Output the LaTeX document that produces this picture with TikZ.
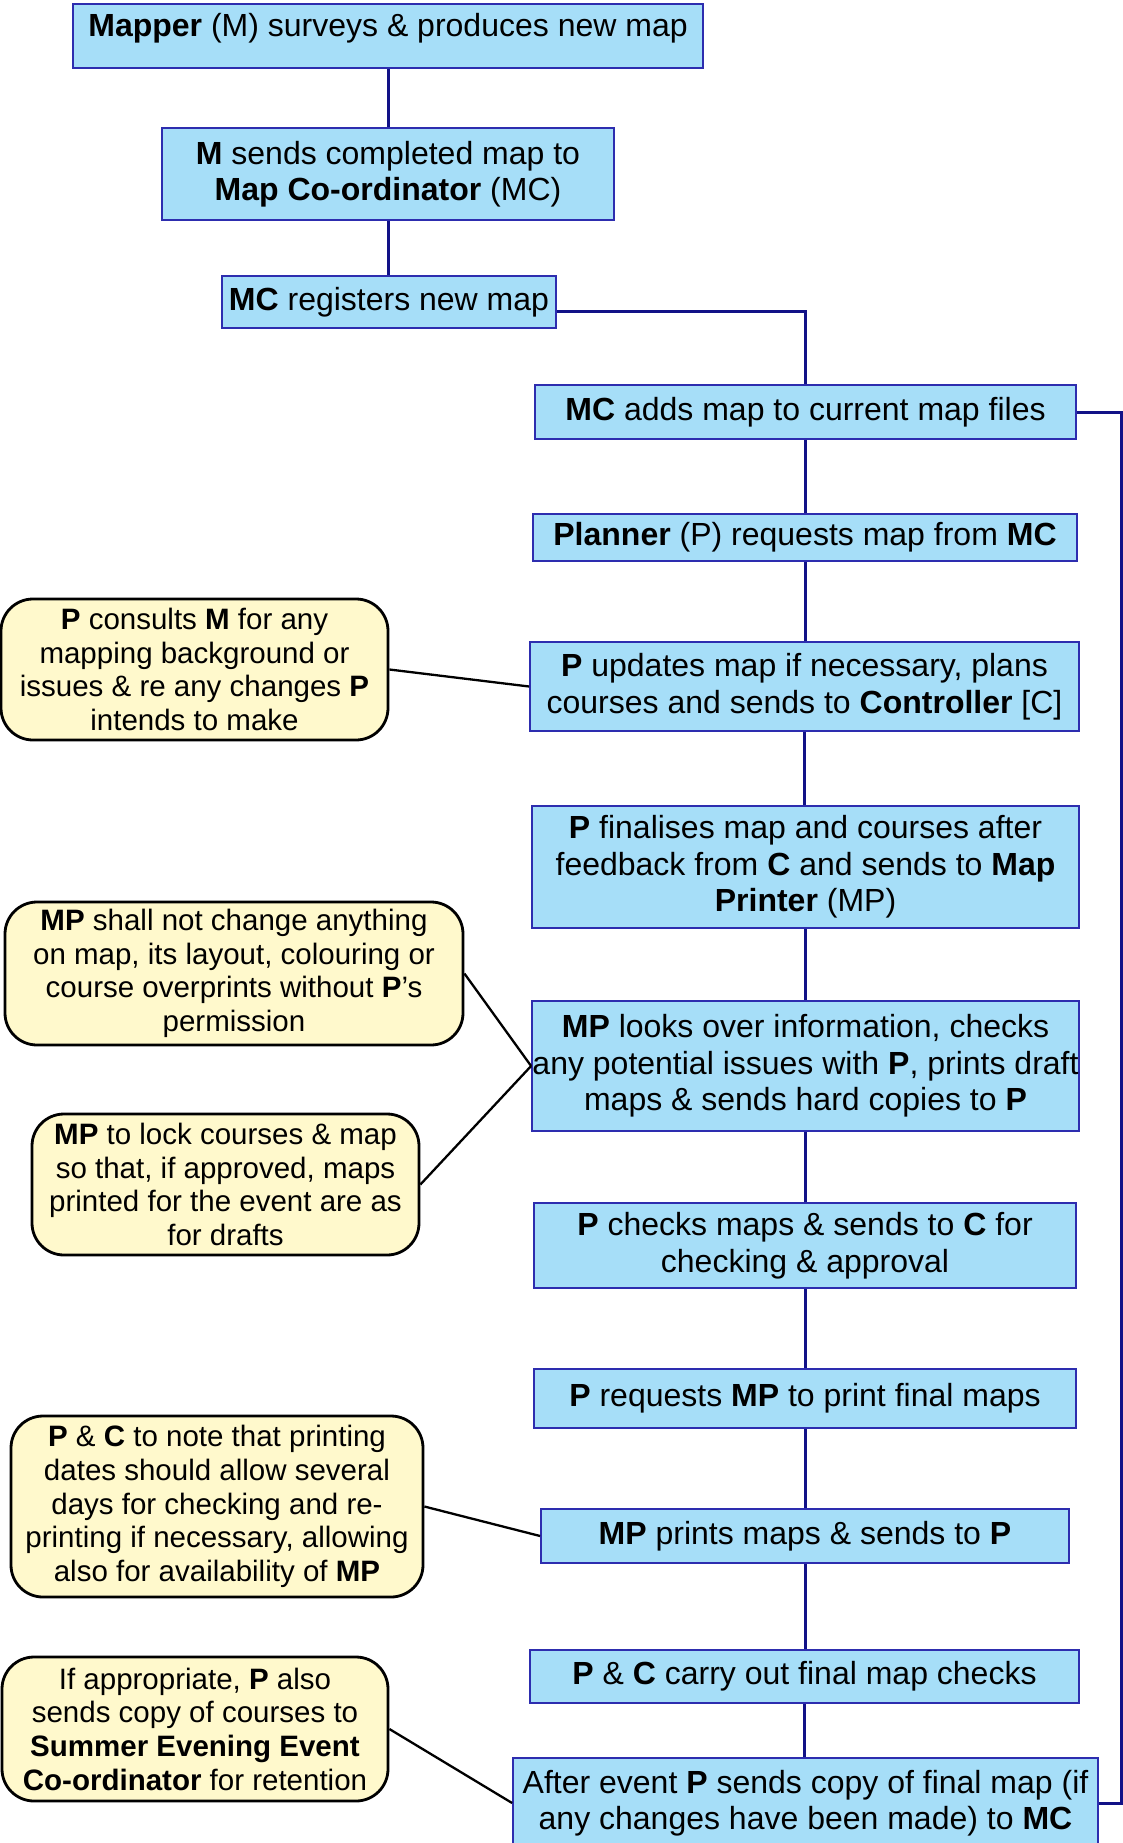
\documentclass[tikz,border=0pt]{standalone}
\usepackage{fontspec}
\setmainfont{Liberation Sans}
\usepackage{tikz}
\definecolor{boxblue}{RGB}{166,222,248}
\definecolor{boxline}{RGB}{45,45,175}
\definecolor{linknavy}{RGB}{18,18,135}
\definecolor{noteyellow}{RGB}{255,249,204}

\begin{document}
\begin{tikzpicture}[x=1pt,y=-1pt]
\tikzstyle{every node}=[font=\fontsize{32}{36.5}\selectfont]
\tikzstyle{stage}=[draw=boxline,line width=1.8pt,fill=boxblue,align=center,inner sep=0pt]
\tikzstyle{note}=[draw=black,line width=2.8pt,fill=noteyellow,rounded corners=32pt,align=center,inner sep=0pt,font=\fontsize{29.5}{33.7}\selectfont]
\tikzstyle{link}=[draw=linknavy,line width=3pt]
\tikzstyle{tie}=[draw=black,line width=2.3pt]
\useasboundingbox (0,0) rectangle (1123,1843);
\clip (0,0) rectangle (1123,1843);

%main boxes
\node[stage,minimum width=630pt,text height=24pt,text depth=22pt,inner ysep=9pt] (mapper) at (388,36) {\textbf{Mapper} (M) surveys \& produces new map};
\node[stage,minimum width=452pt,minimum height=92pt] (msend) at (388,174) {\textbf{M} sends completed map to\\\textbf{Map Co-ordinator} (MC)};
\node[stage,minimum width=334pt,minimum height=52pt] (mcreg) at (389,302) {\textbf{MC} registers new map};
\node[stage,minimum width=541pt,minimum height=54pt] (mcadd) at (805.5,412) {\textbf{MC} adds map to current map files};
\node[stage,minimum width=544pt,minimum height=47pt] (planner) at (805,537.5) {\textbf{Planner} (P) requests map from \textbf{MC}};
\node[stage,minimum width=549pt,minimum height=89pt] (pupdate) at (804.5,686.5) {\textbf{P} updates map if necessary, plans\\courses and sends to \textbf{Controller} [C]};
\node[stage,minimum width=547pt,minimum height=122pt] (pfinal) at (805.5,867) {\textbf{P} finalises map and courses after\\feedback from \textbf{C} and sends to \textbf{Map}\\\textbf{Printer} (MP)};
\node[stage,minimum width=547pt,minimum height=130pt] (mplook) at (805.5,1066) {\textbf{MP} looks over information, checks\\any potential issues with \textbf{P}, prints draft\\maps \& sends hard copies to \textbf{P}};
\node[stage,minimum width=542pt,minimum height=85pt] (pcheck) at (805,1245.5) {\textbf{P} checks maps \& sends to \textbf{C} for\\checking \& approval};
\node[stage,minimum width=542pt,minimum height=59pt] (preq) at (805,1398.5) {\textbf{P} requests \textbf{MP} to print final maps};
\node[stage,minimum width=528pt,minimum height=54pt] (mpprint) at (805,1536) {\textbf{MP} prints maps \& sends to \textbf{P}};
\node[stage,minimum width=549pt,minimum height=53pt] (pccheck) at (804.5,1676.5) {\textbf{P} \& \textbf{C} carry out final map checks};
\node[stage,minimum width=585pt,minimum height=90pt] (after) at (805.5,1803) {After event \textbf{P} sends copy of final map (if\\any changes have been made) to \textbf{MC}};

%side notes
\node[note,minimum width=387pt,minimum height=141pt] (pconsult) at (194.5,669.5) {\textbf{P} consults \textbf{M} for any\\mapping background or\\issues \& re any changes \textbf{P}\\intends to make};
\node[note,minimum width=458pt,minimum height=143pt] (mpnochange) at (234,973.5) {\textbf{MP} shall not change anything\\on map, its layout, colouring or\\course overprints without \textbf{P}’s\\permission};
\node[note,minimum width=387pt,minimum height=141pt] (mplock) at (225.5,1184.5) {\textbf{MP} to lock courses \& map\\so that, if approved, maps\\printed for the event are as\\for drafts};
\node[note,minimum width=412pt,minimum height=181pt] (pcnote) at (217,1506.5) {\textbf{P} \& \textbf{C} to note that printing\\dates should allow several\\days for checking and re-\\printing if necessary, allowing\\also for availability of \textbf{MP}};
\node[note,minimum width=386pt,minimum height=144pt] (sendcopy) at (195,1729) {If appropriate, \textbf{P} also\\sends copy of courses to\\\textbf{Summer Evening Event}\\\textbf{Co-ordinator} for retention};

%flow lines
\draw[link] (mapper.south) -- (mapper.south |- msend.north);
\draw[link] (msend.south) -- (msend.south |- mcreg.north);
\draw[link] ([yshift=-10pt]mcreg.east) -| (mcadd.north);
\foreach \a/\b in {mcadd/planner,planner/pupdate,pupdate/pfinal,pfinal/mplook,mplook/pcheck,pcheck/preq,preq/mpprint,mpprint/pccheck,pccheck/after}
  \draw[link] (\a.south) -- (\a.south |- \b.north);

%return line
\coordinate (back) at (1121,412);
\draw[link] (mcadd.east) -- (back) |- (after.east);

%note lines
\draw[tie] (pconsult.east) -- (pupdate.west);
\draw[tie] (mpnochange.east) -- (mplook.west);
\draw[tie] (mplock.east) -- (mplook.west);
\draw[tie] (pcnote.east) -- (mpprint.west);
\draw[tie] (sendcopy.east) -- (after.west);
\end{tikzpicture}
\end{document}
